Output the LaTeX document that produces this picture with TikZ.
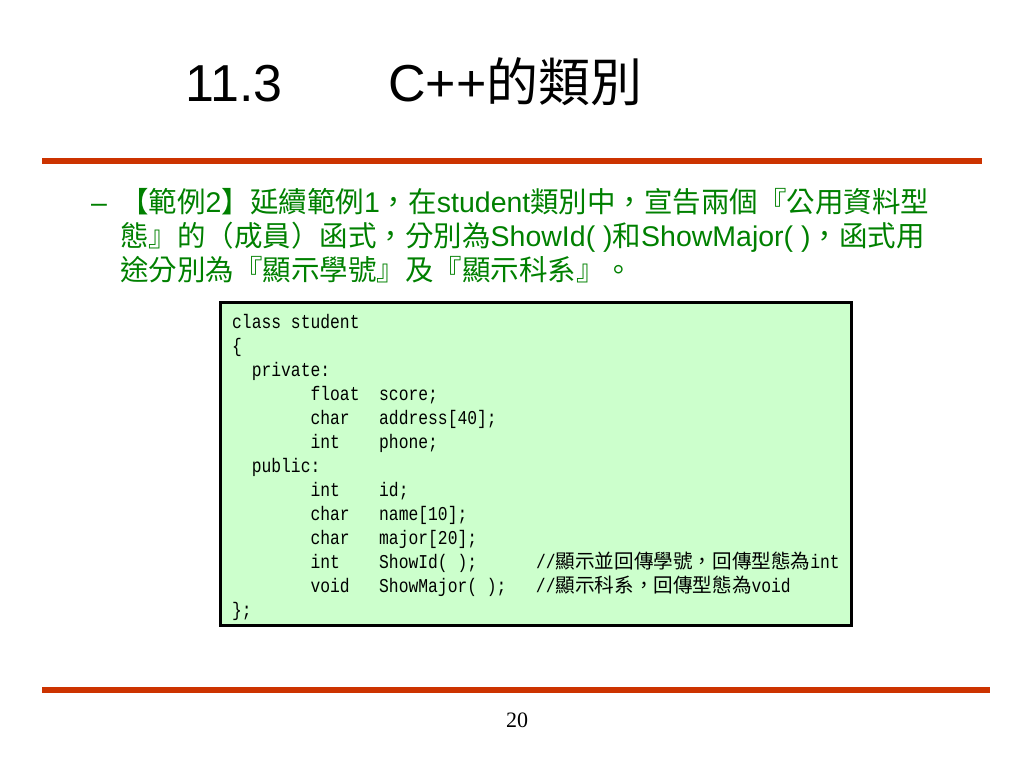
\documentclass[tikz,border=0pt]{standalone}
\usepackage{fontspec}
\setmainfont{Liberation Sans}
\newfontfamily\cjkfont{Noto Sans CJK TC}
\newcommand\cjk[1]{{\cjkfont #1}}
\newfontfamily\codefont[FakeStretch=0.833]{Liberation Mono}
\newfontfamily\pagefont{Liberation Serif}
\definecolor{rulered}{HTML}{CC3300}
\definecolor{bulletgreen}{HTML}{008000}
\definecolor{codebg}{HTML}{CCFFCC}
\newlength\cw
\setlength\cw{9.8bp}
\newcommand\fld[2]{\makebox[#1\cw][l]{#2}}

\begin{document}
\begin{tikzpicture}[x=1bp, y=-1bp]
	\tikzstyle{title} = [anchor=base west, inner sep=0pt, font=\fontsize{52bp}{60bp}\selectfont]
	\tikzstyle{bullet} = [anchor=base west, inner sep=0pt, text=bulletgreen, font=\fontsize{28.5bp}{34bp}\selectfont]
	\tikzstyle{codeline} = [anchor=base west, inner sep=0pt, font=\codefont\fontsize{19.6bp}{24bp}\selectfont]
	\tikzstyle{rule} = [draw=rulered, line width=6bp]
	\useasboundingbox (0,0) rectangle (1024,768);
	
	\node[title] (secnum) at (185,102) {11.3};
	\node[title] (sectitle) at (388,102) {C++\cjk{的類別}};
	
	\coordinate (topL) at (42,161);
	\coordinate (topR) at (982,161);
	\draw[rule] (topL) -- (topR);
	
	\node[bullet] (dash) at (91,212) {--};
	\node[bullet] (b1) at (120,212) {\cjk{【範例}2\cjk{】延續範例}1\cjk{，在}student\cjk{類別中，宣告兩個『公用資料型}};
	\node[bullet] (b2) at (120,246) {\cjk{態』的（成員）函式，分別為}ShowId( )\cjk{和}ShowMajor( )\cjk{，函式用}};
	\node[bullet] (b3) at (120,280) {\cjk{途分別為『顯示學號』及『顯示科系』。}};
	
	\node[draw, line width=3bp, fill=codebg, inner sep=0pt, minimum width=630bp, minimum height=323bp] (codebox) at (536,463.5) {};
	
	\node[codeline] (l0) at (232,328) {class student};
	\node[codeline] (l1) at (232,352) {\{};
	\node[codeline] (l2) at (232,376) {\hspace*{2\cw}private:};
	\node[codeline] (l3) at (232,400) {\hspace*{8\cw}\fld{7}{float}score;};
	\node[codeline] (l4) at (232,424) {\hspace*{8\cw}\fld{7}{char}address[40];};
	\node[codeline] (l5) at (232,448) {\hspace*{8\cw}\fld{7}{int}phone;};
	\node[codeline] (l6) at (232,472) {\hspace*{2\cw}public:};
	\node[codeline] (l7) at (232,496) {\hspace*{8\cw}\fld{7}{int}id;};
	\node[codeline] (l8) at (232,520) {\hspace*{8\cw}\fld{7}{char}name[10];};
	\node[codeline] (l9) at (232,544) {\hspace*{8\cw}\fld{7}{char}major[20];};
	\node[codeline] (l10) at (232,568) {\hspace*{8\cw}\fld{7}{int}\fld{16}{ShowId( );}//\cjk{顯示並回傳學號，回傳型態為}int};
	\node[codeline] (l11) at (232,592) {\hspace*{8\cw}\fld{7}{void}\fld{16}{ShowMajor( );}//\cjk{顯示科系，回傳型態為}void};
	\node[codeline] (l12) at (232,616) {\};};
	
	\coordinate (botL) at (42,690);
	\coordinate (botR) at (990,690);
	\draw[rule] (botL) -- (botR);
	
	\node[anchor=base, inner sep=0pt, font=\pagefont\fontsize{22bp}{26bp}\selectfont] (pagenum) at (517,727) {20};
\end{tikzpicture}
\end{document}
